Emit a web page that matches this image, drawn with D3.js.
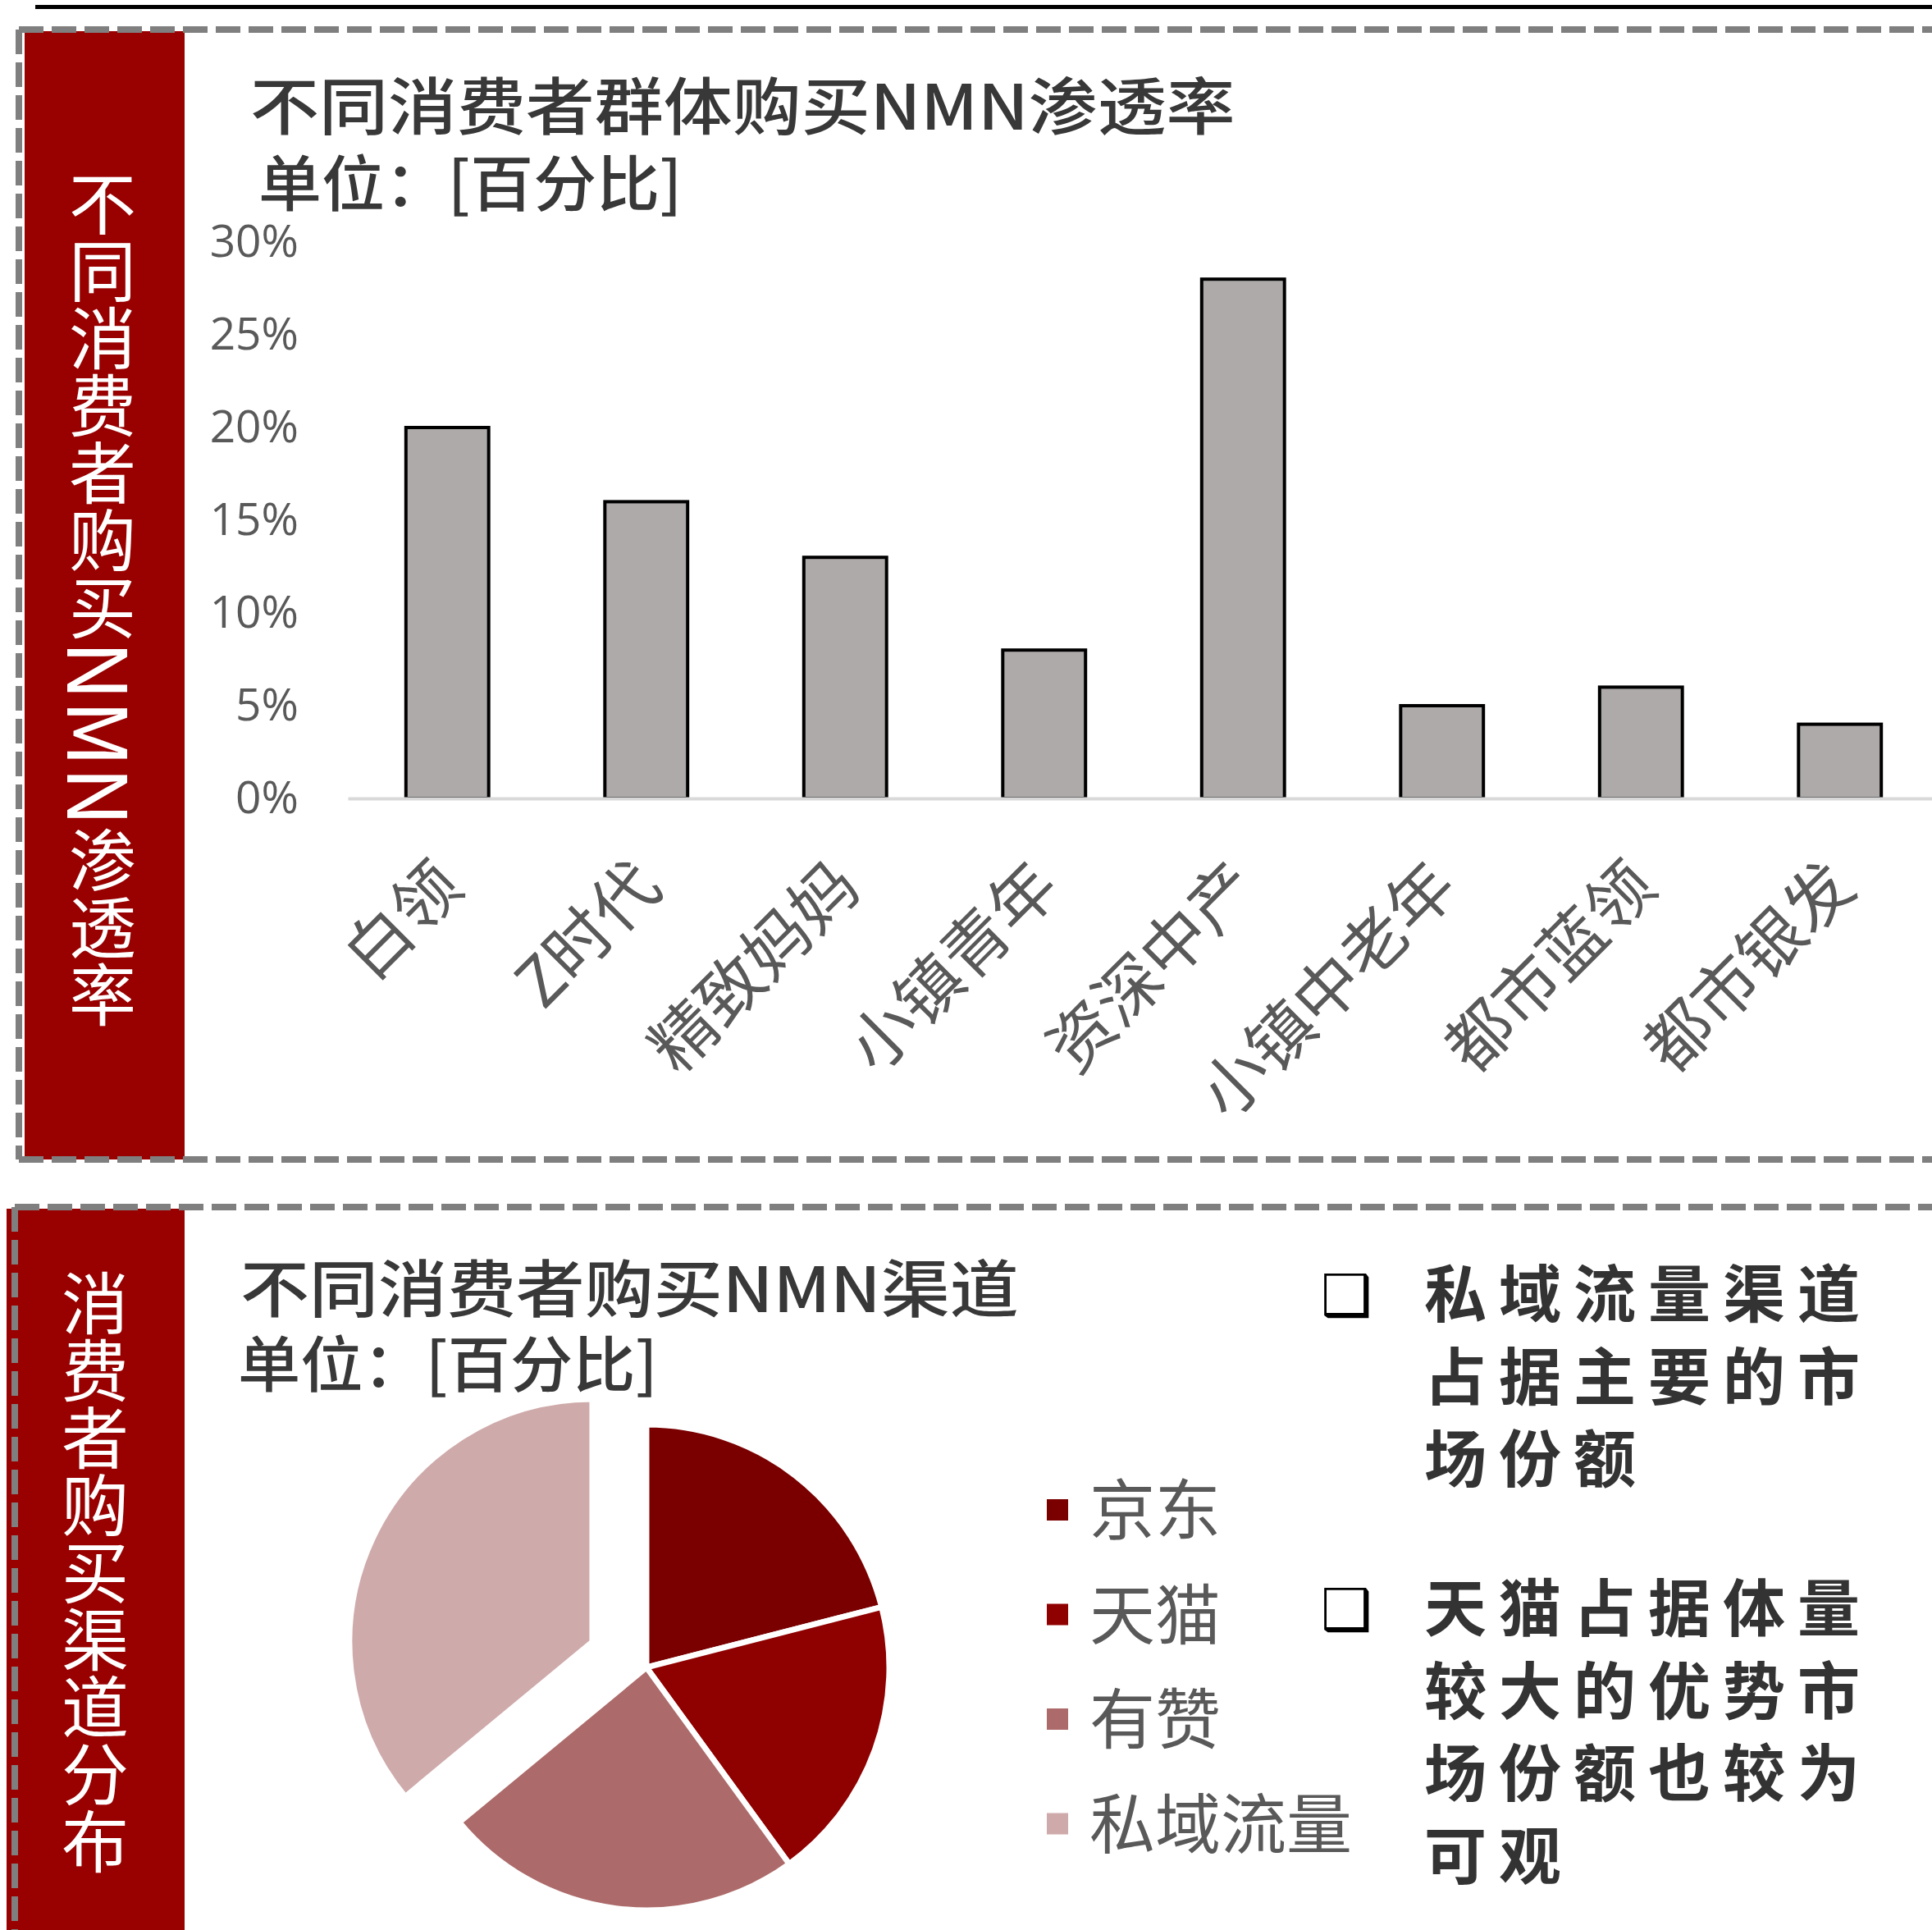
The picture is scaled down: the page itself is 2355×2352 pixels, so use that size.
<!DOCTYPE html>
<html>
<head>
<meta charset="utf-8">
<script src="https://cdn.jsdelivr.net/npm/d3@7"></script>
<style>
  html, body { margin: 0; padding: 0; background: #fff; }
  svg { display: block; }
  text { font-family: "Noto Sans CJK SC", "Noto Sans", sans-serif; }
</style>
</head>
<body>
<svg id="chart" width="2355" height="2352"></svg>
<script>
// ---- data ----
const groups = ['白领', 'Z时代', '精致妈妈', '小镇青年', '资深中产', '小镇中老年', '都市蓝领', '都市银发'];
const rates = [20, 16, 13, 8, 28, 5, 6, 4];
const rateTicks = [0, 5, 10, 15, 20, 25, 30];

const channels = ['京东', '天猫', '有赞', '私域流量'];
const shares = [21, 19, 24, 36];
const channelColors = ['#7a0000', '#8f0000', '#ad6a6a', '#cfaaaa'];
const explodedChannel = '私域流量';

const barTitle = '不同消费者群体购买NMN渗透率';
const pieTitle = '不同消费者购买NMN渠道';
const unitLabel = '单位：[百分比]';
const barSideLabel = '不同消费者购买NMN渗透率';
const pieSideLabel = '消费者购买渠道分布';
const noteBlocks = [
  ['私域流量渠道', '占据主要的市', '场份额'],
  ['天猫占据体量', '较大的优势市', '场份额也较为', '可观']
];

const RED = '#990000';
const DASH_GREY = '#7f7f7f';
const TEXT_GREY = '#595959';
const TITLE_GREY = '#383838';

const svg = d3.select('#chart');

// top black rule
svg.append('line')
  .attr('x1', 43).attr('x2', 2355).attr('y1', 8.5).attr('y2', 8.5)
  .attr('stroke', '#000').attr('stroke-width', 5);

// dashed panel frame with red side strip
function drawPanel(top, bottom, redLeft, dashX, hasBottom) {
  svg.append('rect')
    .attr('x', redLeft).attr('y', top + 2)
    .attr('width', 225 - redLeft).attr('height', bottom - top - 2)
    .attr('fill', RED);

  const dash = (x1, y1, x2, y2) => svg.append('line')
    .attr('x1', x1).attr('y1', y1).attr('x2', x2).attr('y2', y2)
    .attr('stroke', DASH_GREY).attr('stroke-width', 8)
    .attr('stroke-dasharray', '30,10');

  dash(dashX, top, 2355, top);
  dash(dashX, top, dashX, bottom);
  if (hasBottom) dash(dashX, bottom, 2355, bottom);
}

drawPanel(36, 1413, 30, 23, true);
drawPanel(1471, 2352, 8, 18, false);

// vertical white text in the red strips, latin runs set a bit larger
function sideText(label, cx, top, size) {
  const t = svg.append('text')
    .attr('x', cx).attr('y', top)
    .attr('fill', '#fff')
    .attr('font-size', size)
    .style('writing-mode', 'vertical-rl');
  label.split(/([A-Za-z]+)/).filter(s => s.length).forEach(part => {
    const span = t.append('tspan').text(part);
    if (/[A-Za-z]/.test(part)) span.attr('font-size', size * 1.22);
  });
}

sideText(barSideLabel, 125, 207, 82);
sideText(pieSideLabel, 116, 1547, 82);

// titles, slightly widened like the source
function title(text, x, y, size, widen) {
  svg.append('text')
    .attr('transform', `translate(${x},${y}) scale(${widen},1)`)
    .attr('font-size', size)
    .attr('font-weight', 500)
    .attr('fill', TITLE_GREY)
    .text(text);
}

title(barTitle, 305, 158, 76, 1.105);
title(unitLabel, 315, 251, 74, 1.04);
title(pieTitle, 293, 1599, 76, 1.105);
title(unitLabel, 290, 1690, 74, 1.03);

// ---- bar chart ----
const x = d3.scaleBand()
  .domain(groups)
  .range([424, 2364])
  .paddingInner(0.584)
  .paddingOuter(0.292);

const y = d3.scaleLinear()
  .domain([0, 30])
  .range([973, 295]);

const barArea = svg.append('g').attr('class', 'bars');

barArea.selectAll('rect')
  .data(groups.map((g, i) => ({ group: g, value: rates[i] })))
  .join('rect')
  .attr('x', d => x(d.group))
  .attr('y', d => y(d.value))
  .attr('width', x.bandwidth())
  .attr('height', d => y(0) - y(d.value))
  .attr('fill', '#aeaaaa')
  .attr('stroke', '#000')
  .attr('stroke-width', 4);

const yAxisG = svg.append('g')
  .attr('transform', 'translate(364,0)')
  .call(d3.axisLeft(y).tickValues(rateTicks).tickSize(0).tickPadding(0).tickFormat(d => d + '%'));
yAxisG.select('.domain').remove();
yAxisG.selectAll('text')
  .attr('font-size', 55)
  .attr('fill', TEXT_GREY)
  .style('font-family', '"Open Sans", "Noto Sans", sans-serif');

const xAxisG = svg.append('g')
  .attr('transform', `translate(0,${y(0)})`)
  .call(d3.axisBottom(x).tickSize(0).tickSizeOuter(0));
xAxisG.select('.domain').attr('stroke', '#d9d9d9').attr('stroke-width', 4);
xAxisG.selectAll('text')
  .attr('x', 0).attr('y', 0).attr('dy', 0)
  .attr('text-anchor', 'end')
  .attr('transform', 'translate(22,112) rotate(-45)')
  .attr('font-size', 80)
  .attr('fill', TEXT_GREY)
  .style('font-family', '"Noto Sans CJK SC", sans-serif');

// ---- pie chart ----
const pieData = d3.pie().sort(null).value(d => d.value)(
  channels.map((c, i) => ({ channel: c, value: shares[i] }))
);
const arc = d3.arc().innerRadius(0).outerRadius(296);
const explodeBy = 73;

svg.append('g')
  .attr('transform', 'translate(788,2032)')
  .selectAll('path')
  .data(pieData)
  .join('path')
  .attr('d', arc)
  .attr('fill', (d, i) => channelColors[i])
  .attr('stroke', '#fff')
  .attr('stroke-width', 7)
  .attr('transform', d => {
    if (d.data.channel !== explodedChannel) return null;
    const mid = (d.startAngle + d.endAngle) / 2;
    return `translate(${Math.sin(mid) * explodeBy},${-Math.cos(mid) * explodeBy})`;
  });

// legend
const legend = svg.append('g').attr('class', 'legend');
channels.forEach((c, i) => {
  const cy = 1840 + i * 127.5;
  legend.append('rect')
    .attr('x', 1276).attr('y', cy - 13)
    .attr('width', 26).attr('height', 26)
    .attr('fill', channelColors[i]);
  legend.append('text')
    .attr('x', 1328).attr('y', cy + 29)
    .attr('font-size', 80)
    .attr('fill', TEXT_GREY)
    .text(c);
});

// ---- notes on the right ----
const noteTops = [1605, 1988];
noteBlocks.forEach((lines, b) => {
  svg.append('text')
    .attr('x', 1610).attr('y', noteTops[b] - 2)
    .attr('font-size', 70)
    .attr('font-weight', 'bold')
    .attr('fill', '#000')
    .style('font-family', '"DejaVu Sans", sans-serif')
    .text('❑');
  lines.forEach((line, i) => {
    svg.append('text')
      .attr('x', 1736).attr('y', noteTops[b] + i * 100.5)
      .attr('font-size', 76)
      .attr('font-weight', 'bold')
      .attr('letter-spacing', 15)
      .attr('fill', '#333')
      .text(line);
  });
});
</script>
</body>
</html>
